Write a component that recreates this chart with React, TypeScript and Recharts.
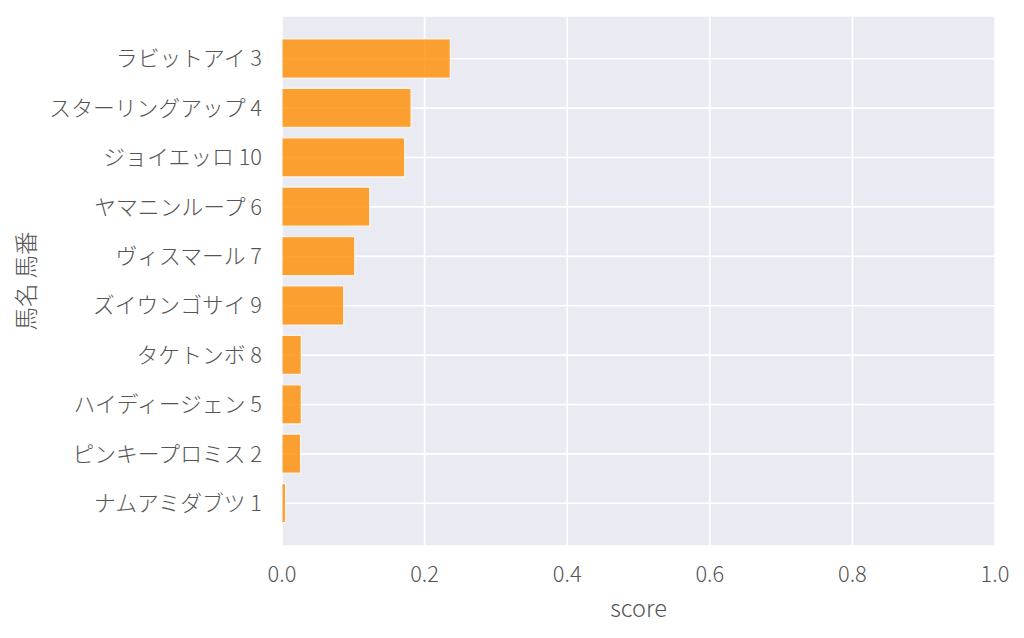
import React from "react";
import { BarChart, Bar, XAxis, YAxis, CartesianGrid, Label } from "recharts";

const horses: string[] = [
  "ラビットアイ 3",
  "スターリングアップ 4",
  "ジョイエッロ 10",
  "ヤマニンループ 6",
  "ヴィスマール 7",
  "ズイウンゴサイ 9",
  "タケトンボ 8",
  "ハイディージェン 5",
  "ピンキープロミス 2",
  "ナムアミダブツ 1",
];
const scores: number[] = [0.236, 0.181, 0.172, 0.123, 0.102, 0.0865, 0.027, 0.027, 0.026, 0.005];
const xTicks: number[] = [0, 0.2, 0.4, 0.6, 0.8, 1.0];
const xLabel = "score";
const yLabel = "馬名 馬番";

const data = horses.map((h, i) => ({ name: h, score: scores[i] }));

const FONT = "'Noto Sans CJK JP', 'Noto Sans', sans-serif";
const TEXT_COLOR = "#555555";
const TICK_SIZE = 21.8;
const LABEL_SIZE = 23.5;

export default function App() {
  return (
    <div style={{ position: "absolute", left: 0, top: 0, width: 1024, height: 638, background: "#fff" }}>
      <BarChart
        width={1024}
        height={638}
        data={data}
        layout="vertical"
        margin={{ top: 16, right: 29, bottom: 20, left: 0 }}
        barSize={39}
      >
        <CartesianGrid fill="#EAEAF2" stroke="#ffffff" strokeWidth={1.6} />
        <XAxis
          type="number"
          dataKey="score"
          domain={[0, 1]}
          ticks={xTicks}
          tickFormatter={(v: number) => v.toFixed(1)}
          axisLine={false}
          tickLine={false}
          tickSize={6}
          tickMargin={15}
          height={72}
          tick={{ fontFamily: FONT, fontWeight: 300, fontSize: TICK_SIZE, fill: TEXT_COLOR }}
        >
          <Label
            value={xLabel}
            position="insideBottom"
            offset={1}
            style={{ fontFamily: FONT, fontWeight: 300, fontSize: LABEL_SIZE, fill: TEXT_COLOR }}
          />
        </XAxis>
        <YAxis
          type="category"
          dataKey="name"
          width={282}
          axisLine={false}
          tickLine={false}
          tickSize={6}
          tickMargin={14}
          padding={{ top: 18, bottom: 18 }}
          interval={0}
          tick={{ fontFamily: FONT, fontWeight: 300, fontSize: TICK_SIZE, fill: TEXT_COLOR }}
        >
          <Label
            content={() => (
              <text
                x={25}
                y={281}
                transform="rotate(-90 25 281)"
                textAnchor="middle"
                dominantBaseline="central"
                style={{ fontFamily: FONT, fontWeight: 300, fontSize: LABEL_SIZE, fill: TEXT_COLOR }}
              >
                {yLabel}
              </text>
            )}
          />
        </YAxis>
        <Bar
          dataKey="score"
          fill="#FF8C00"
          fillOpacity={0.8}
          stroke="#ffffff"
          strokeOpacity={0.8}
          strokeWidth={1.2}
          isAnimationActive={false}
        />
      </BarChart>
    </div>
  );
}
